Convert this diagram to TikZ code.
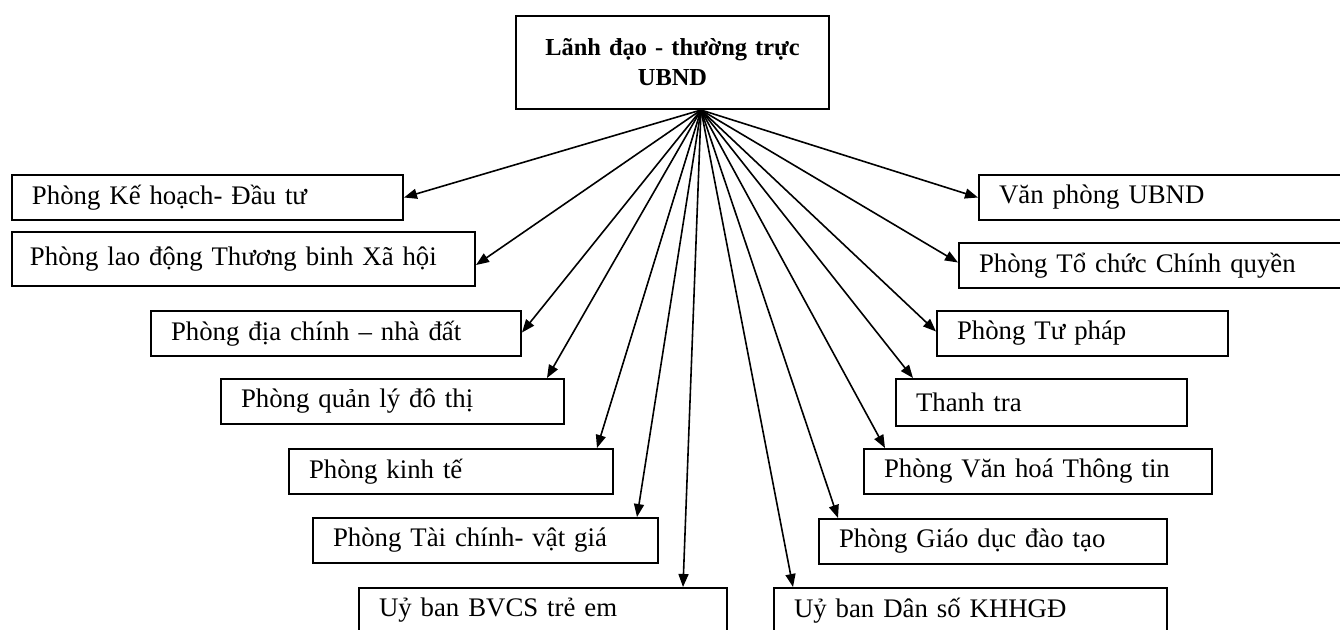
\documentclass[tikz,border=0pt]{standalone}
\usepackage{fontspec}
\setmainfont{Liberation Serif}
\usetikzlibrary{arrows.meta}

\begin{document}
\begin{tikzpicture}[
        x=0.5pt, y=-0.5pt,
        lead/.style={rectangle, draw, line width=1pt, anchor=north west, align=center, text width=136.5pt, minimum height=46.5pt, inner xsep=10pt, font=\fontsize{12.2}{15}\selectfont\bfseries},
        dept/.style={rectangle, draw, line width=1pt, anchor=north west, align=left, text width=#1, minimum height=22.5pt, inner xsep=10pt, font=\fontsize{13.4}{16}\selectfont},
        arrow/.style={-{Triangle[length=6.5pt, width=5pt]}, line width=0.8pt}
    ]
        \useasboundingbox (0,0) rectangle (1340,629);
        \clip (0,0) rectangle (1340,629);
        \node[lead] (top) at (515,15) {Lãnh đạo - thường trực\\UBND};
        \coordinate (hub) at ([xshift=14.25pt]top.south);
        % left column
        \node[dept=175.5pt] (kh) at (11,174) {Phòng Kế hoạch- Đầu tư};
        \node[dept=213.5pt, inner xsep=9pt, minimum height=27pt] (ld) at (11,231) {Phòng lao động Thương binh Xã hội};
        \node[dept=165pt] (dc) at (150,310) {Phòng địa chính – nhà đất};
        \node[dept=151.5pt] (ql) at (220,378) {Phòng quản lý đô thị};
        \node[dept=142pt] (kt) at (288,448) {Phòng kinh tế};
        \node[dept=152.5pt] (tc) at (312,517) {Phòng Tài chính- vật giá};
        \node[dept=164pt] (tre) at (358,587) {Uỷ ban BVCS trẻ em};
        % right column
        \node[dept=171pt] (vp) at (978,174) {Văn phòng UBND};
        \node[dept=181pt] (tchq) at (958,242) {Phòng Tổ chức Chính quyền};
        \node[dept=125.5pt] (tp) at (936,310) {Phòng Tư pháp};
        \node[dept=125.5pt, minimum height=23.5pt] (tt) at (895,378) {Thanh tra};
        \node[dept=154pt] (vh) at (863,448) {Phòng Văn hoá Thông tin};
        \node[dept=154pt] (gd) at (818,518) {Phòng Giáo dục đào tạo};
        \node[dept=176.5pt] (ds) at (773,587) {Uỷ ban Dân số  KHHGĐ};
        \draw[arrow] (hub) -- (kh.east);
        \draw[arrow] (hub) -- ([yshift=-3pt]ld.east);
        \draw[arrow] (hub) -- ([yshift=0.5pt]dc.east);
        \draw[arrow] (hub) -- ([xshift=-9pt]ql.north east);
        \draw[arrow] (hub) -- ([xshift=-8.5pt]kt.north east);
        \draw[arrow] (hub) -- ([xshift=-11pt]tc.north east);
        \draw[arrow] (hub) -- ([xshift=-22.5pt]tre.north east);
        \draw[arrow] (hub) -- (vp.west);
        \draw[arrow] (hub) -- ([yshift=1.5pt]tchq.west);
        \draw[arrow] (hub) -- ([yshift=1pt]tp.west);
        \draw[arrow] (hub) -- ([xshift=9pt]tt.north west);
        \draw[arrow] (hub) -- ([xshift=11pt]vh.north west);
        \draw[arrow] (hub) -- ([xshift=10pt]gd.north west);
        \draw[arrow] (hub) -- ([xshift=10pt]ds.north west);
    \end{tikzpicture}
\end{document}
